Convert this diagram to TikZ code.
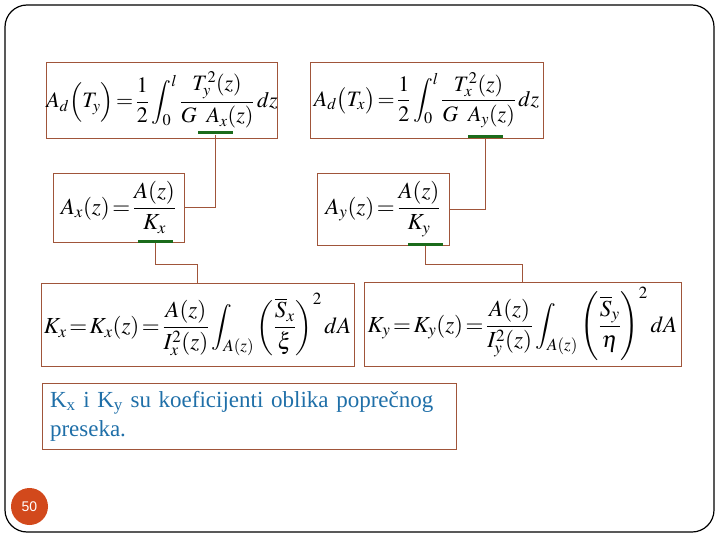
\documentclass[tikz,border=0pt]{standalone}
\usepackage{amsmath}
\usepackage{mathptmx}
\usepackage{fontspec}
\setmainfont{Liberation Serif}
\newfontfamily\pagenumfont{Liberation Sans}
\usetikzlibrary{positioning,calc}
\definecolor{BoxBrown}{HTML}{A0553A}
\definecolor{BarGreen}{HTML}{1B6B1B}
\definecolor{NoteBlue}{HTML}{1F6FA8}
\definecolor{PageRed}{HTML}{D2491C}
\tikzset{
  eqbox/.style={draw=BoxBrown,line width=0.9pt,inner sep=0pt,
                font=\fontsize{23}{27}\selectfont},
  markbar/.style={fill=BarGreen,minimum width=35pt,minimum height=3pt,inner sep=0pt},
  link/.style={draw=BoxBrown,line width=0.9pt}
}
\thickmuskip=2mu plus 1mu
\medmuskip=2mu plus 1mu

\begin{document}
\begin{tikzpicture}[x=1pt,y=-1pt]
  % slide frame and page number
  \useasboundingbox (0,0) rectangle (720,540);
  \draw[line width=1.2pt,rounded corners=22pt] (5,5) rectangle (714,532);
  \node[circle,fill=PageRed,minimum size=37pt,inner sep=0pt,text=white,
        font=\pagenumfont\fontsize{14}{16}\selectfont] (pagenum) at (29.5,506.5) {50};

  % deformation work for both shear forces
  \node[eqbox,minimum width=230pt,minimum height=76pt,font=\fontsize{22}{26}\selectfont]
    (adty) at (162,100)
    {$\displaystyle A_d\Bigl(T_y\Bigr)=\frac{1}{2}\int_0^l\frac{T_y^2(z)}{G\mkern8mu A_x(z)}\,dz$};
  \node[eqbox,minimum width=233pt,minimum height=76pt,font=\fontsize{22}{26}\selectfont]
    (adtx) at (426.5,100)
    {$\displaystyle A_d\bigl(T_x\bigr)=\frac{1}{2}\int_0^l\frac{T_x^2(z)}{G\mkern8mu A_y(z)}\,dz$};

  % reduced areas
  \node[eqbox,minimum width=131pt,minimum height=69pt] (axz) at (118.5,207.5)
    {$\displaystyle A_x(z)=\frac{A(z)}{K_x}$};
  \node[eqbox,minimum width=132pt,minimum height=72pt] (ayz) at (383,209)
    {$\displaystyle A_y(z)=\frac{A(z)}{K_y}$};

  % shape coefficients
  \node[eqbox,minimum width=313pt,minimum height=83pt] (kx) at (197.5,324.5)
    {$\displaystyle K_x=K_x(z)=\frac{A(z)}{I_x^2(z)}\int_{A(z)}\left(\frac{\overline{S}_x}{\xi}\right)^2 dA$};
  \node[eqbox,minimum width=317pt,minimum height=84pt] (ky) at (522.5,324)
    {$\displaystyle K_y=K_y(z)=\frac{A(z)}{I_y^2(z)}\int_{A(z)}\left(\frac{\overline{S}_y}{\eta}\right)^2 dA$};

  % note
  \node[draw=BoxBrown,line width=0.9pt,minimum width=414pt,minimum height=66pt,
        text width=398pt,align=left,text=NoteBlue,inner sep=8pt,
        font=\fontsize{23}{29}\selectfont] (note) at (249,416)
    {K\textsubscript{x} i K\textsubscript{y} su koeficijenti oblika poprečnog\\preseka.};

  % underlined terms
  \node[markbar] (barax) at (215.5,133) {};
  \node[markbar] (baray) at (485.5,137) {};
  \node[markbar] (barkx) at (155.5,241.5) {};
  \node[markbar] (barky) at (425.5,244) {};

  % connectors
  \draw[link] (barax.south) |- (axz.east);
  \draw[link] (baray.south) |- (ayz.east);
  \draw[link] (barkx.south) -- ++(0,21) -| (kx.north);
  \draw[link] (barky.south) -- ++(0,19) -| (ky.north);
\end{tikzpicture}
\end{document}
